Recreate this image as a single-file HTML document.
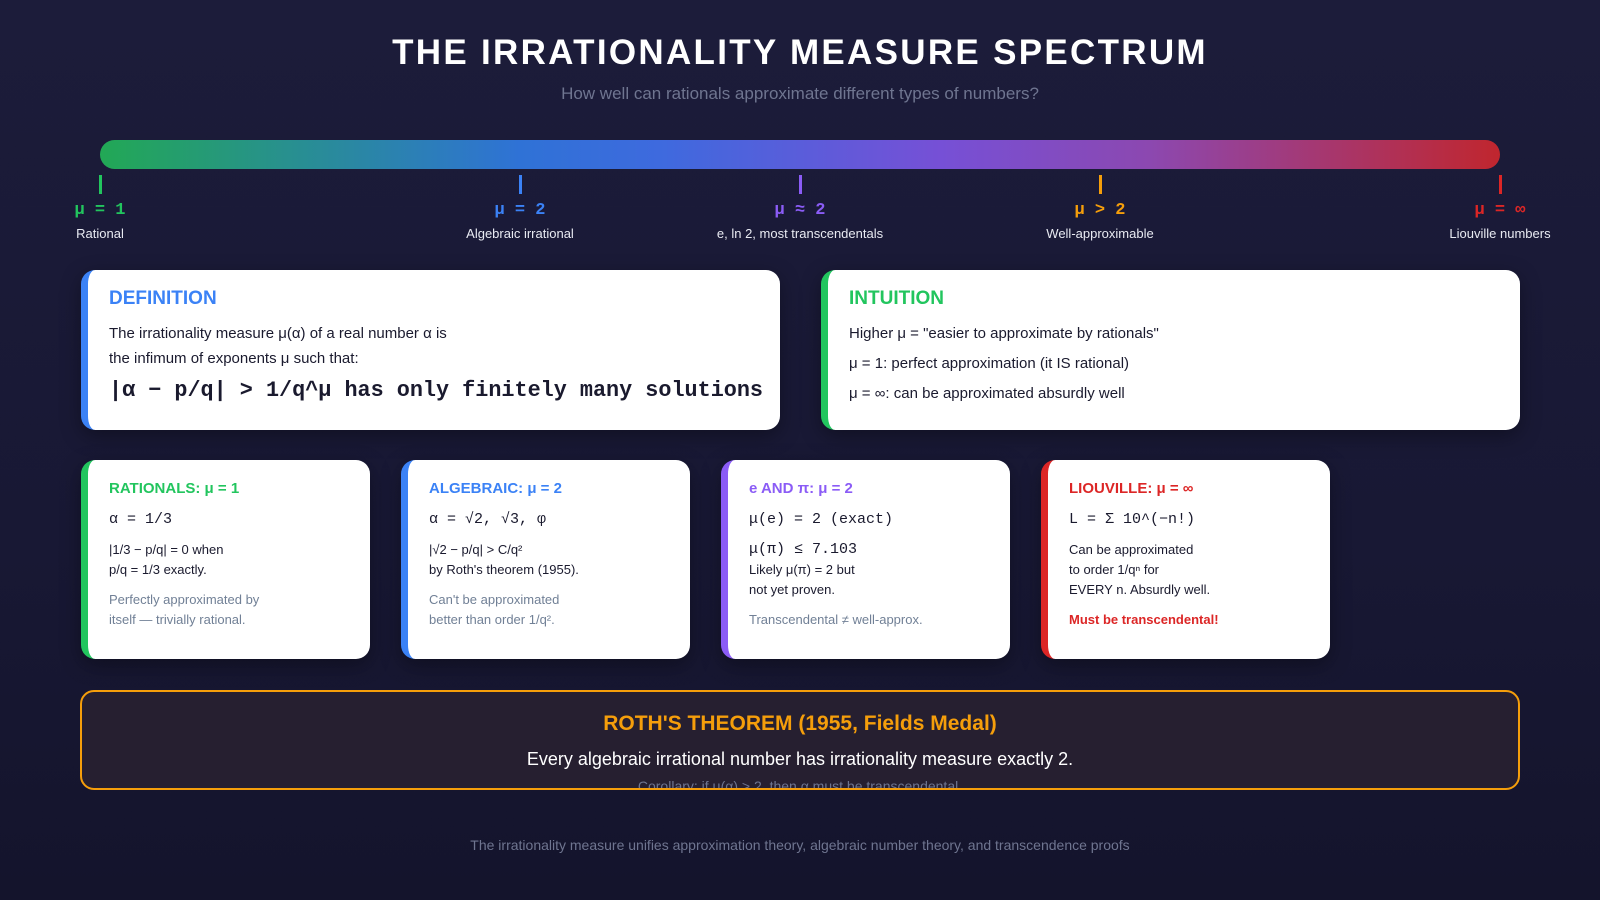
<!DOCTYPE html>
<html><head><meta charset="utf-8"><style>
*{margin:0;padding:0;box-sizing:border-box}
body{width:1600px;height:900px;overflow:hidden;background:linear-gradient(180deg,#1c1c3a 0%,#181834 60%,#14142c 100%);font-family:"Liberation Sans","DejaVu Sans",sans-serif;position:relative;color:#1a1a2e}
.a{position:absolute}
.c{text-align:center}
.mono{font-family:"Liberation Mono","DejaVu Sans Mono",monospace}
h1{position:absolute;left:0;width:1600px;top:33px;text-align:center;color:#fff;font-size:35px;letter-spacing:2.3px;font-weight:700}
.sub{top:84px;left:0;width:1600px;text-align:center;color:#6f7590;font-size:17px}
.bar{left:100px;top:140px;width:1400px;height:29px;border-radius:15px;background:linear-gradient(90deg,#22a855 0%,#2f72d6 30%,#3e6ade 40%,#7650d6 60%,#8c48b0 75%,#c0262e 100%)}
.tick{width:3px;height:19px;top:175px}
.mk{top:201px;width:200px;margin-left:-100px;font-size:17px;font-weight:700;text-align:center}
.ds{top:226px;width:240px;margin-left:-120px;font-size:13px;color:#e8eaf2;text-align:center}
.card{background:#fff;border-radius:14px;border-left:7px solid;box-shadow:0 6px 20px rgba(0,0,0,.35)}
.card .t{position:absolute;left:21px;font-weight:700}
.card .l{position:absolute;left:21px;white-space:nowrap}
</style></head><body>
<h1>THE IRRATIONALITY MEASURE SPECTRUM</h1>
<div class="a sub">How well can rationals approximate different types of numbers?</div>
<div class="a bar"></div>

<div class="a tick" style="left:99px;background:#22c55e"></div>
<div class="a tick" style="left:519px;background:#3b82f6"></div>
<div class="a tick" style="left:799px;background:#8b5cf6"></div>
<div class="a tick" style="left:1099px;background:#f59e0b"></div>
<div class="a tick" style="left:1499px;background:#dc2626"></div>
<div class="a mk mono" style="left:100px;color:#22c55e">μ = 1</div>
<div class="a mk mono" style="left:520px;color:#3b82f6">μ = 2</div>
<div class="a mk mono" style="left:800px;color:#8b5cf6">μ ≈ 2</div>
<div class="a mk mono" style="left:1100px;color:#f59e0b">μ &gt; 2</div>
<div class="a mk mono" style="left:1500px;color:#dc2626">μ = ∞</div>
<div class="a ds" style="left:100px">Rational</div>
<div class="a ds" style="left:520px">Algebraic irrational</div>
<div class="a ds" style="left:800px">e, ln 2, most transcendentals</div>
<div class="a ds" style="left:1100px">Well-approximable</div>
<div class="a ds" style="left:1500px">Liouville numbers</div>

<div class="a card" style="left:81px;top:270px;width:699px;height:160px;border-color:#3b82f6">
 <div class="t" style="top:18px;font-size:19px;color:#3b82f6">DEFINITION</div>
 <div class="l" style="top:55px;font-size:15px">The irrationality measure μ(α) of a real number α is</div>
 <div class="l" style="top:80px;font-size:15px">the infimum of exponents μ such that:</div>
 <div class="l mono" style="top:108px;font-size:21.8px;font-weight:700;left:21px">|α − p/q| &gt; 1/q^μ has only finitely many solutions</div>
</div>
<div class="a card" style="left:821px;top:270px;width:699px;height:160px;border-color:#22c55e">
 <div class="t" style="top:18px;font-size:19px;color:#22c55e">INTUITION</div>
 <div class="l" style="top:55px;font-size:15px">Higher μ = "easier to approximate by rationals"</div>
 <div class="l" style="top:85px;font-size:15px">μ = 1: perfect approximation (it IS rational)</div>
 <div class="l" style="top:115px;font-size:15px">μ = ∞: can be approximated absurdly well</div>
</div>

<div class="a card" style="left:81px;top:460px;width:289px;height:199px;border-color:#22c55e">
 <div class="t" style="top:20px;font-size:15px;color:#22c55e">RATIONALS: μ = 1</div>
 <div class="l mono" style="top:51px;font-size:15px">α = 1/3</div>
 <div class="l" style="top:82px;font-size:13px">|1/3 − p/q| = 0 when</div>
 <div class="l" style="top:102px;font-size:13px">p/q = 1/3 exactly.</div>
 <div class="l" style="top:132px;font-size:13px;color:#718096">Perfectly approximated by</div>
 <div class="l" style="top:152px;font-size:13px;color:#718096">itself — trivially rational.</div>
</div>
<div class="a card" style="left:401px;top:460px;width:289px;height:199px;border-color:#3b82f6">
 <div class="t" style="top:20px;font-size:15px;color:#3b82f6">ALGEBRAIC: μ = 2</div>
 <div class="l mono" style="top:51px;font-size:15px">α = √2, √3, φ</div>
 <div class="l" style="top:82px;font-size:13px">|√2 − p/q| &gt; C/q²</div>
 <div class="l" style="top:102px;font-size:13px">by Roth's theorem (1955).</div>
 <div class="l" style="top:132px;font-size:13px;color:#718096">Can't be approximated</div>
 <div class="l" style="top:152px;font-size:13px;color:#718096">better than order 1/q².</div>
</div>
<div class="a card" style="left:721px;top:460px;width:289px;height:199px;border-color:#8b5cf6">
 <div class="t" style="top:20px;font-size:15px;color:#8b5cf6">e AND π: μ = 2</div>
 <div class="l mono" style="top:51px;font-size:15px">μ(e) = 2 (exact)</div>
 <div class="l mono" style="top:81px;font-size:15px">μ(π) ≤ 7.103</div>
 <div class="l" style="top:102px;font-size:13px">Likely μ(π) = 2 but</div>
 <div class="l" style="top:122px;font-size:13px">not yet proven.</div>
 <div class="l" style="top:152px;font-size:13px;color:#718096">Transcendental ≠ well-approx.</div>
</div>
<div class="a card" style="left:1041px;top:460px;width:289px;height:199px;border-color:#dc2626">
 <div class="t" style="top:20px;font-size:15px;color:#dc2626">LIOUVILLE: μ = ∞</div>
 <div class="l mono" style="top:51px;font-size:15px">L = Σ 10^(−n!)</div>
 <div class="l" style="top:82px;font-size:13px">Can be approximated</div>
 <div class="l" style="top:102px;font-size:13px">to order 1/qⁿ for</div>
 <div class="l" style="top:122px;font-size:13px">EVERY n. Absurdly well.</div>
 <div class="l" style="top:152px;font-size:13px;color:#dc2626;font-weight:700">Must be transcendental!</div>
</div>

<div class="a" style="left:80px;top:690px;width:1440px;height:100px;border:2px solid #f59e0b;border-radius:14px;background:#261f30;overflow:hidden">
 <div class="a c" style="left:0;width:1436px;top:20px;font-size:21px;font-weight:700;color:#f59e0b">ROTH'S THEOREM (1955, Fields Medal)</div>
 <div class="a c" style="left:0;width:1436px;top:57px;font-size:18px;color:#fff">Every algebraic irrational number has irrationality measure exactly 2.</div>
 <div class="a c" style="left:0;width:1436px;top:86px;font-size:14px;color:#6f7590">Corollary: if μ(α) &gt; 2, then α must be transcendental.</div>
</div>
<div class="a c" style="left:0;width:1600px;top:837px;font-size:14px;color:#6f7590">The irrationality measure unifies approximation theory, algebraic number theory, and transcendence proofs</div>
</body></html>
